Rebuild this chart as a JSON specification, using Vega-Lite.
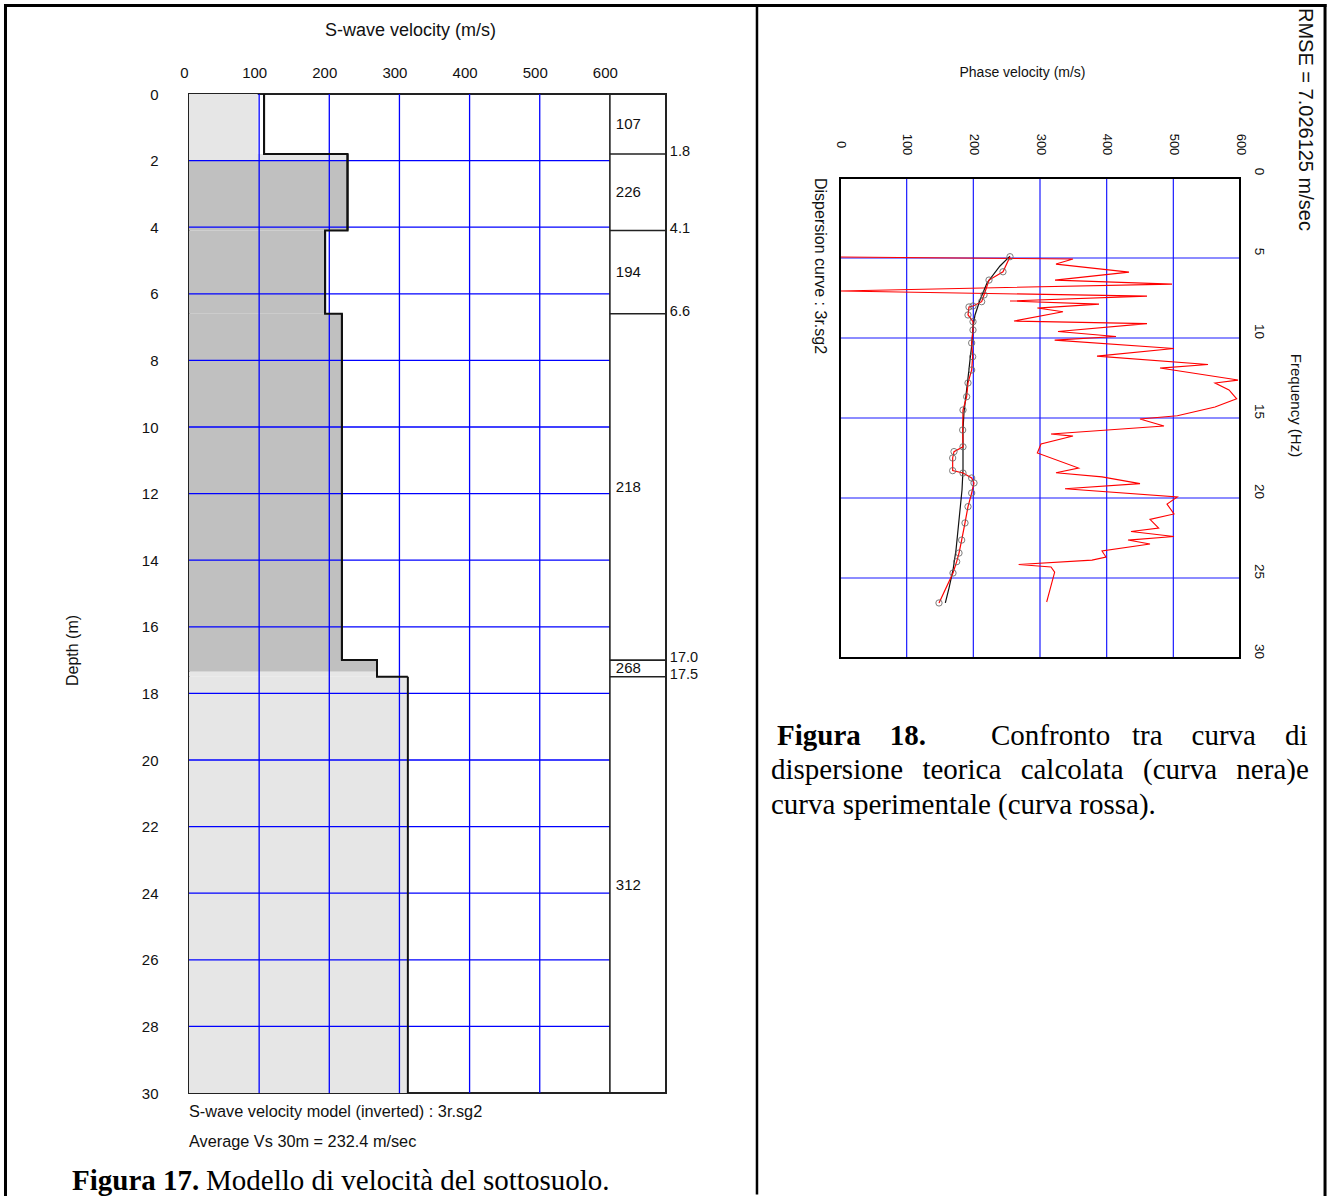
{
  "$schema": "https://vega.github.io/schema/vega-lite/v6.json",
  "background": "white",
  "padding": {"left": 2, "top": 2, "right": 0, "bottom": 0},
  "autosize": {"type": "pad"},
  "bounds": "flush",
  "spacing": 174,
  "config": {
    "font": "Liberation Sans",
    "axis": {"labelFont": "Liberation Sans", "titleFont": "Liberation Sans", "labelColor": "#111", "titleColor": "#111", "ticks": false, "domain": false, "grid": false, "titleFontWeight": "normal", "labelFlush": false, "labelOverlap": false},
    "text": {"font": "Liberation Sans", "color": "#111"}
  },
  "datasets": {
    "one": [{}],
    "layers": [
      {"top": 0, "bottom": 1.8, "vs": 107},
      {"top": 1.8, "bottom": 4.1, "vs": 226},
      {"top": 4.1, "bottom": 6.6, "vs": 194},
      {"top": 6.6, "bottom": 17.0, "vs": 218},
      {"top": 17.0, "bottom": 17.5, "vs": 268},
      {"top": 17.5, "bottom": 30, "vs": 312}
    ],
    "fills": [
      {"top": 0, "bottom": 1.8, "v": 98, "shade": "light"},
      {"top": 1.8, "bottom": 2, "v": 226, "shade": "light"},
      {"top": 2, "bottom": 4.1, "v": 226, "shade": "dark"},
      {"top": 4.1, "bottom": 6.6, "v": 194, "shade": "dark"},
      {"top": 6.6, "bottom": 17.0, "v": 218, "shade": "dark"},
      {"top": 17.0, "bottom": 17.35, "v": 268, "shade": "dark"},
      {"top": 17.35, "bottom": 17.5, "v": 268, "shade": "light"},
      {"top": 17.5, "bottom": 30, "v": 312, "shade": "light"}
    ],
    "gridLv": [{"v": 100}, {"v": 200}, {"v": 300}, {"v": 400}, {"v": 500}],
    "gridLd": [{"d": 2}, {"d": 4}, {"d": 6}, {"d": 8}, {"d": 10}, {"d": 12}, {"d": 14}, {"d": 16}, {"d": 18}, {"d": 20}, {"d": 22}, {"d": 24}, {"d": 26}, {"d": 28}],
    "gridRv": [{"v": 100}, {"v": 200}, {"v": 300}, {"v": 400}, {"v": 500}],
    "gridRf": [{"f": 5}, {"f": 10}, {"f": 15}, {"f": 20}, {"f": 25}],
    "exp": [
      {"v": 0, "f": 4.94}, {"v": 349.5, "f": 5.06}, {"v": 324, "f": 5.38}, {"v": 433.5, "f": 5.88}, {"v": 322.5, "f": 6.38},
      {"v": 498, "f": 6.63}, {"v": 0, "f": 7.06}, {"v": 460.5, "f": 7.38}, {"v": 255, "f": 7.69}, {"v": 388.5, "f": 7.88},
      {"v": 296, "f": 8.13}, {"v": 334.5, "f": 8.36}, {"v": 261, "f": 8.94}, {"v": 460.5, "f": 9.1}, {"v": 327, "f": 9.59},
      {"v": 414, "f": 9.91}, {"v": 322, "f": 10.13}, {"v": 501, "f": 10.66}, {"v": 385.5, "f": 11.13}, {"v": 552, "f": 11.66},
      {"v": 480, "f": 11.88}, {"v": 597, "f": 12.63}, {"v": 562.5, "f": 12.81}, {"v": 583.5, "f": 13.25}, {"v": 595, "f": 13.8},
      {"v": 562.5, "f": 14.31}, {"v": 506, "f": 14.86}, {"v": 450, "f": 15.06}, {"v": 486, "f": 15.5}, {"v": 316.5, "f": 16.0},
      {"v": 349.5, "f": 16.13}, {"v": 301.5, "f": 16.63}, {"v": 296, "f": 17.19}, {"v": 357.8, "f": 18.13}, {"v": 324, "f": 18.42},
      {"v": 393, "f": 18.68}, {"v": 450, "f": 19.1}, {"v": 337.5, "f": 19.42}, {"v": 506, "f": 19.94}, {"v": 490.5, "f": 20.38},
      {"v": 501, "f": 21.0}, {"v": 465, "f": 21.34}, {"v": 478, "f": 21.88}, {"v": 436.5, "f": 22.09}, {"v": 501, "f": 22.41},
      {"v": 432, "f": 22.63}, {"v": 465, "f": 22.88}, {"v": 393, "f": 23.31}, {"v": 399, "f": 23.69}, {"v": 378, "f": 23.88},
      {"v": 268, "f": 24.16}, {"v": 316.5, "f": 24.31}, {"v": 322, "f": 24.63}, {"v": 310, "f": 26.5}
    ],
    "picked": [
      {"v": 255, "f": 4.92}, {"v": 244.5, "f": 5.86}, {"v": 223.5, "f": 6.38}, {"v": 216, "f": 7.31}, {"v": 212.5, "f": 7.73},
      {"v": 199.5, "f": 8.0}, {"v": 193.5, "f": 8.06}, {"v": 192, "f": 8.56}, {"v": 199.5, "f": 8.98}, {"v": 199.5, "f": 9.5},
      {"v": 197.5, "f": 10.31}, {"v": 199, "f": 11.17}, {"v": 197.5, "f": 12.0}, {"v": 192, "f": 12.81}, {"v": 190, "f": 13.67},
      {"v": 184.5, "f": 14.5}, {"v": 184, "f": 15.75}, {"v": 184.5, "f": 16.8}, {"v": 171, "f": 17.1}, {"v": 169, "f": 17.5},
      {"v": 169, "f": 18.29}, {"v": 184.5, "f": 18.44}, {"v": 197.5, "f": 18.75}, {"v": 201, "f": 19.06}, {"v": 197.5, "f": 19.69},
      {"v": 192, "f": 20.54}, {"v": 187.5, "f": 21.56}, {"v": 182.5, "f": 22.63}, {"v": 178.5, "f": 23.44}, {"v": 175, "f": 23.98},
      {"v": 169.5, "f": 24.69}, {"v": 148.5, "f": 26.56}
    ],
    "theory": [
      {"v": 255, "f": 4.88}, {"v": 240, "f": 5.5}, {"v": 220.5, "f": 6.56}, {"v": 210, "f": 7.63}, {"v": 202.5, "f": 8.56},
      {"v": 199.5, "f": 9.31}, {"v": 198, "f": 10.31}, {"v": 195, "f": 11.38}, {"v": 192, "f": 12.5}, {"v": 189, "f": 13.56},
      {"v": 186, "f": 14.63}, {"v": 184.5, "f": 15.75}, {"v": 184.5, "f": 17.0}, {"v": 184.5, "f": 18.25}, {"v": 183, "f": 19.5},
      {"v": 180, "f": 20.75}, {"v": 177, "f": 22.0}, {"v": 174, "f": 23.25}, {"v": 169.5, "f": 24.5}, {"v": 163.5, "f": 25.63},
      {"v": 158, "f": 26.56}
    ]
  },
  "hconcat": [
    {
      "width": 477,
      "height": 999,
      "view": {"stroke": "#222", "strokeWidth": 2},
      "layer": [
        {
          "data": {"name": "fills"},
          "mark": {"type": "rect"},
          "encoding": {
            "x": {"field": "v", "type": "quantitative", "scale": {"domain": [0, 680], "nice": false, "zero": false},
              "axis": {"orient": "top", "values": [0, 100, 200, 300, 400, 500, 600], "labelFontSize": 15, "labelPadding": 22, "labelBaseline": "middle", "labelOffset": -5, "title": "S-wave velocity (m/s)", "titleFontSize": 18, "titleX": 221, "titleY": -64, "titleAlign": "center", "titleBaseline": "middle"}},
            "x2": {"datum": 0},
            "y": {"field": "top", "type": "quantitative", "scale": {"domain": [0, 30], "nice": false, "zero": false, "reverse": true},
              "axis": {"orient": "left", "values": [0, 2, 4, 6, 8, 10, 12, 14, 16, 18, 20, 22, 24, 26, 28, 30], "labelFontSize": 15, "labelPadding": 31, "title": "Depth (m)", "titleFontSize": 16, "titleAngle": -90, "titleX": -117, "titleY": 556, "titleAlign": "center", "titleBaseline": "middle"}},
            "y2": {"field": "bottom"},
            "color": {"field": "shade", "type": "nominal", "scale": {"domain": ["light", "dark"], "range": ["#e6e6e6", "#c0c0c0"]}, "legend": null}
          }
        },
        {
          "data": {"name": "gridLv"},
          "mark": {"type": "rule", "color": "#0000ff", "strokeWidth": 1.3},
          "encoding": {
            "x": {"field": "v", "type": "quantitative"},
            "y": {"datum": 0, "type": "quantitative"},
            "y2": {"datum": 30}
          }
        },
        {
          "data": {"name": "gridLd"},
          "mark": {"type": "rule", "color": "#0000ff", "strokeWidth": 1.3},
          "encoding": {
            "y": {"field": "d", "type": "quantitative"},
            "x": {"datum": 0, "type": "quantitative"},
            "x2": {"datum": 600}
          }
        },
        {
          "data": {"name": "one"},
          "mark": {"type": "rule", "color": "#222", "strokeWidth": 1.6},
          "encoding": {
            "x": {"datum": 600, "type": "quantitative"},
            "y": {"datum": 0, "type": "quantitative"},
            "y2": {"datum": 30}
          }
        },
        {
          "data": {"name": "layers"},
          "transform": [{"filter": "datum.bottom < 30"}],
          "mark": {"type": "rule", "color": "#222", "strokeWidth": 1.6},
          "encoding": {
            "y": {"field": "bottom", "type": "quantitative"},
            "x": {"datum": 600, "type": "quantitative"},
            "x2": {"datum": 680}
          }
        },
        {
          "data": {"name": "layers"},
          "mark": {"type": "rule", "color": "#111", "strokeWidth": 2},
          "encoding": {
            "x": {"field": "vs", "type": "quantitative"},
            "y": {"field": "top", "type": "quantitative"},
            "y2": {"field": "bottom"}
          }
        },
        {
          "data": {"name": "layers"},
          "mark": {"type": "line", "color": "#111", "strokeWidth": 2, "interpolate": "step-before"},
          "encoding": {
            "x": {"field": "vs", "type": "quantitative"},
            "y": {"field": "top", "type": "quantitative"},
            "order": {"field": "top", "type": "quantitative"}
          }
        },
        {
          "data": {"name": "layers"},
          "transform": [{"calculate": "(datum.top + datum.bottom) / 2", "as": "mid"}],
          "mark": {"type": "text", "align": "left", "baseline": "middle", "fontSize": 15},
          "encoding": {
            "x": {"datum": 608.5, "type": "quantitative"},
            "y": {"field": "mid", "type": "quantitative"},
            "text": {"field": "vs", "type": "quantitative"}
          }
        },
        {
          "data": {"name": "layers"},
          "transform": [{"filter": "datum.bottom < 30"}],
          "mark": {"type": "text", "align": "left", "baseline": "middle", "fontSize": 14.5, "dy": -2},
          "encoding": {
            "x": {"datum": 685.5, "type": "quantitative"},
            "y": {"field": "bottom", "type": "quantitative"},
            "text": {"field": "bottom", "type": "quantitative", "format": ".1f"}
          }
        },
        {
          "data": {"name": "one"},
          "mark": {"type": "text", "align": "left", "baseline": "middle", "fontSize": 16.3},
          "encoding": {
            "x": {"datum": 0, "type": "quantitative"},
            "y": {"datum": 30.57, "type": "quantitative"},
            "text": {"value": "S-wave velocity model (inverted) : 3r.sg2"}
          }
        },
        {
          "data": {"name": "one"},
          "mark": {"type": "text", "align": "left", "baseline": "middle", "fontSize": 16.3},
          "encoding": {
            "x": {"datum": 0, "type": "quantitative"},
            "y": {"datum": 31.47, "type": "quantitative"},
            "text": {"value": "Average Vs 30m = 232.4 m/sec"}
          }
        },
        {
          "data": {"name": "one"},
          "mark": {"type": "text", "align": "left", "baseline": "alphabetic", "fontSize": 29, "font": "Liberation Serif", "fontWeight": "bold", "color": "#000"},
          "encoding": {
            "x": {"datum": -166.8, "type": "quantitative"},
            "y": {"datum": 32.9, "type": "quantitative"},
            "text": {"value": "Figura 17."}
          }
        },
        {
          "data": {"name": "one"},
          "mark": {"type": "text", "align": "left", "baseline": "alphabetic", "fontSize": 29, "font": "Liberation Serif", "color": "#000"},
          "encoding": {
            "x": {"datum": 24.2, "type": "quantitative"},
            "y": {"datum": 32.9, "type": "quantitative"},
            "text": {"value": "Modello di velocità del sottosuolo."}
          }
        },
        {
          "data": {"name": "one"},
          "mark": {"type": "rule", "color": "#000", "strokeWidth": 3, "strokeCap": "square"},
          "encoding": {
            "y": {"datum": -2.658, "type": "quantitative"},
            "x": {"datum": -261.6, "type": "quantitative"},
            "x2": {"datum": 1619.5}
          }
        },
        {
          "data": {"name": "one"},
          "mark": {"type": "rule", "color": "#000", "strokeWidth": 3, "strokeCap": "square"},
          "encoding": {
            "x": {"datum": -261.6, "type": "quantitative"},
            "y": {"datum": -2.658, "type": "quantitative"},
            "y2": {"datum": 33.05}
          }
        },
        {
          "data": {"name": "one"},
          "mark": {"type": "rule", "color": "#000", "strokeWidth": 2.5},
          "encoding": {
            "x": {"datum": 809.7, "type": "quantitative"},
            "y": {"datum": -2.658, "type": "quantitative"},
            "y2": {"datum": 33.05}
          }
        },
        {
          "data": {"name": "one"},
          "mark": {"type": "rule", "color": "#000", "strokeWidth": 3, "strokeCap": "square"},
          "encoding": {
            "x": {"datum": 1619.5, "type": "quantitative"},
            "y": {"datum": -2.658, "type": "quantitative"},
            "y2": {"datum": 33.05}
          }
        }
      ]
    },
    {
      "width": 400,
      "height": 564,
      "view": {"stroke": null},
      "layer": [
        {
          "data": {"name": "gridRv"},
          "mark": {"type": "rule", "color": "#1a1aff", "strokeWidth": 1.2},
          "encoding": {
            "x": {"field": "v", "type": "quantitative", "scale": {"domain": [0, 600], "nice": false, "zero": false},
              "axis": {"orient": "top", "offset": -84, "values": [0, 100, 200, 300, 400, 500, 600], "labelAngle": 90, "labelAlign": "center", "labelBaseline": "middle", "labelPadding": 34, "labelFontSize": 13, "title": "Phase velocity (m/s)", "titleFontSize": 14, "titleX": 182, "titleY": -106, "titleAlign": "center", "titleBaseline": "middle"}},
            "y": {"datum": 0, "type": "quantitative", "scale": {"domain": [-5.25, 30], "nice": false, "zero": false, "reverse": true},
              "axis": {"orient": "right", "values": [0, 5, 10, 15, 20, 25, 30], "labelAngle": 90, "labelAlign": "center", "labelBaseline": "middle", "labelPadding": 18, "labelOffset": -7, "labelFontSize": 13.5, "title": "Frequency (Hz)", "titleAngle": 90, "titleFontSize": 15, "titleX": 55, "titleY": 311, "titleAlign": "center", "titleBaseline": "middle"}},
            "y2": {"datum": 30}
          }
        },
        {
          "data": {"name": "gridRf"},
          "mark": {"type": "rule", "color": "#1a1aff", "strokeWidth": 1.2},
          "encoding": {
            "y": {"field": "f", "type": "quantitative"},
            "x": {"datum": 0, "type": "quantitative"},
            "x2": {"datum": 600}
          }
        },
        {
          "data": {"name": "exp"},
          "mark": {"type": "line", "color": "#ff0000", "strokeWidth": 1.1},
          "encoding": {
            "x": {"field": "v", "type": "quantitative"},
            "y": {"field": "f", "type": "quantitative"},
            "order": {"field": "f", "type": "quantitative"}
          }
        },
        {
          "data": {"name": "theory"},
          "mark": {"type": "line", "color": "#111", "strokeWidth": 1.2},
          "encoding": {
            "x": {"field": "v", "type": "quantitative"},
            "y": {"field": "f", "type": "quantitative"},
            "order": {"field": "f", "type": "quantitative"}
          }
        },
        {
          "data": {"name": "picked"},
          "mark": {"type": "line", "color": "#ff0000", "strokeWidth": 1.2},
          "encoding": {
            "x": {"field": "v", "type": "quantitative"},
            "y": {"field": "f", "type": "quantitative"},
            "order": {"field": "f", "type": "quantitative"}
          }
        },
        {
          "data": {"name": "picked"},
          "mark": {"type": "point", "shape": "circle", "filled": false, "color": "#666", "size": 40, "strokeWidth": 1, "opacity": 0.85},
          "encoding": {
            "x": {"field": "v", "type": "quantitative"},
            "y": {"field": "f", "type": "quantitative"}
          }
        },
        {
          "data": {"name": "one"},
          "mark": {"type": "rect", "fillOpacity": 0, "stroke": "#000", "strokeWidth": 2},
          "encoding": {
            "x": {"datum": 0, "type": "quantitative"},
            "x2": {"datum": 600},
            "y": {"datum": 0, "type": "quantitative"},
            "y2": {"datum": 30}
          }
        },
        {
          "data": {"name": "one"},
          "mark": {"type": "text", "align": "left", "baseline": "middle", "angle": 90, "fontSize": 16},
          "encoding": {
            "x": {"datum": -30, "type": "quantitative"},
            "y": {"datum": 0, "type": "quantitative"},
            "text": {"value": "Dispersion curve : 3r.sg2"}
          }
        },
        {
          "data": {"name": "one"},
          "mark": {"type": "text", "align": "left", "baseline": "middle", "angle": 90, "fontSize": 20},
          "encoding": {
            "x": {"datum": 697.5, "type": "quantitative"},
            "y": {"datum": -10.625, "type": "quantitative"},
            "text": {"value": "RMSE = 7.026125 m/sec"}
          }
        },
        {
          "data": {"name": "one"},
          "mark": {"type": "text", "align": "left", "baseline": "alphabetic", "fontSize": 29, "font": "Liberation Serif", "fontWeight": "bold", "color": "#000"},
          "encoding": {
            "x": {"datum": -94.5, "type": "quantitative"},
            "y": {"datum": 35.44, "type": "quantitative"},
            "text": {"value": "Figura\u00a0\u00a0\u00a0\u00a018."}
          }
        },
        {
          "data": {"name": "one"},
          "mark": {"type": "text", "align": "left", "baseline": "alphabetic", "fontSize": 29, "font": "Liberation Serif", "color": "#000"},
          "encoding": {
            "x": {"datum": 226.5, "type": "quantitative"},
            "y": {"datum": 35.44, "type": "quantitative"},
            "text": {"value": "Confronto\u00a0\u00a0\u00a0tra\u00a0\u00a0\u00a0\u00a0curva\u00a0\u00a0\u00a0\u00a0di"}
          }
        },
        {
          "data": {"name": "one"},
          "mark": {"type": "text", "align": "left", "baseline": "alphabetic", "fontSize": 29, "font": "Liberation Serif", "color": "#000"},
          "encoding": {
            "x": {"datum": -103.5, "type": "quantitative"},
            "y": {"datum": 37.59, "type": "quantitative"},
            "text": {"value": "dispersione\u00a0\u00a0\u2006teorica\u00a0\u00a0\u2006calcolata\u00a0\u00a0\u2006(curva\u00a0\u00a0\u2006nera)e"}
          }
        },
        {
          "data": {"name": "one"},
          "mark": {"type": "text", "align": "left", "baseline": "alphabetic", "fontSize": 29, "font": "Liberation Serif", "color": "#000"},
          "encoding": {
            "x": {"datum": -103.5, "type": "quantitative"},
            "y": {"datum": 39.72, "type": "quantitative"},
            "text": {"value": "curva sperimentale (curva rossa)."}
          }
        }
      ]
    }
  ]
}
